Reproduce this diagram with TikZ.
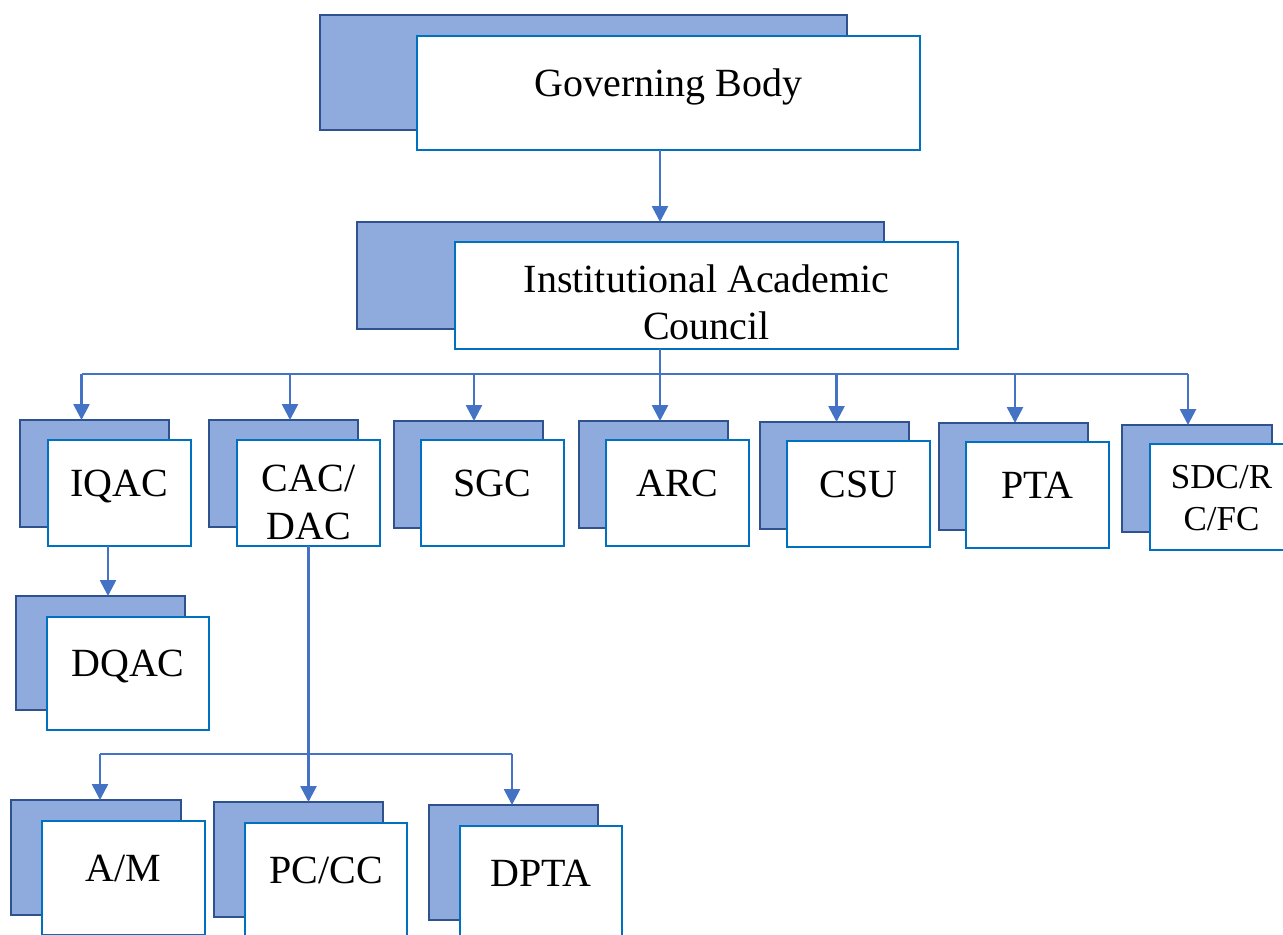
\documentclass[tikz,border=0pt]{standalone}
\usepackage{fontspec}
\setmainfont{Liberation Serif}
\usetikzlibrary{arrows.meta, calc}

\definecolor{backfill}{HTML}{8FAADC}
\definecolor{backline}{HTML}{2F528F}
\definecolor{frontline}{HTML}{0070C0}
\definecolor{linkblue}{HTML}{4472C4}

\begin{document}
\begin{tikzpicture}[
    x=0.5pt, y=-0.5pt,
    back/.style={rectangle, draw=backline, fill=backfill, line width=1.4pt, inner sep=0pt, outer sep=0pt, anchor=north west},
    front/.style={rectangle, draw=frontline, fill=white, line width=1.4pt, inner sep=0pt, outer sep=0pt, anchor=north west},
    rowB/.style={back, minimum width=74.5pt, minimum height=53.5pt},
    rowF/.style={front, minimum width=71.5pt, minimum height=53pt},
    lowB/.style={back, minimum width=84.5pt, minimum height=57.5pt},
    lowF/.style={front, minimum width=81pt, minimum height=57pt},
    one/.style={font=\fontsize{20}{24}\selectfont, text height=14pt, text depth=4pt, inner sep=0pt, yshift=3.5pt},
    two/.style={align=center, inner sep=0pt},
    arr/.style={-{Triangle[width=8pt,length=8pt]}, line width=1.3pt, draw=linkblue},
    conn/.style={line width=1.3pt, draw=linkblue}
]
\useasboundingbox (0,0) rectangle (1283,934);
\clip (0,0) rectangle (1283,934);

% Top levels
\node[back, minimum width=263.5pt, minimum height=57.5pt] (gbB) at (320,15) {};
\node[front, minimum width=251.5pt, minimum height=57pt, label={[one]center:Governing Body}] (gb) at (417,36) {};
\node[back, minimum width=263.5pt, minimum height=53.5pt] (iacB) at (357,222) {};
\node[front, minimum width=251.5pt, minimum height=53.5pt,
      label={[two, font=\fontsize{20}{23.3}\selectfont, yshift=-3.4pt]center:Institutional Academic\\Council}] (iac) at (455,242) {};

% Committees
\node[rowB] (iqacB) at (20,420) {};
\node[rowF, label={[one]center:IQAC}] (iqac) at (48,440) {};
\node[rowB] (cacB) at (209,420) {};
\node[rowF, label={[two, font=\fontsize{20}{24.2}\selectfont, yshift=-4.8pt]center:CAC/\\DAC}] (cac) at (237,440) {};
\node[rowB] (sgcB) at (394,421) {};
\node[rowF, label={[one]center:SGC}] (sgc) at (421,440) {};
\node[rowB] (arcB) at (579,421) {};
\node[rowF, label={[one]center:ARC}] (arc) at (606,440) {};
\node[rowB] (csuB) at (760,422) {};
\node[rowF, label={[one]center:CSU}] (csu) at (787,441) {};
\node[rowB] (ptaB) at (939,423) {};
\node[rowF, label={[one]center:PTA}] (pta) at (966,442) {};
\node[rowB, minimum width=75pt] (sdcB) at (1122,425) {};
\node[rowF, label={[two, font=\fontsize{17.5}{20.8}\selectfont, yshift=-0.5pt]center:SDC/R\\C/FC}] (sdc) at (1150,444) {};

% Lower levels
\node[lowB, minimum height=57pt] (dqacB) at (16,596) {};
\node[lowF, minimum height=56.5pt, label={[one]center:DQAC}] (dqac) at (47,617) {};
\node[lowB, minimum width=85pt] (amB) at (11,800) {};
\node[lowF, minimum width=81.5pt, label={[one]center:A/M}] (am) at (42,821) {};
\node[lowB] (pcB) at (214,802) {};
\node[lowF, label={[one]center:PC/CC}] (pc) at (245,823) {};
\node[lowB] (dptaB) at (429,805) {};
\node[lowF, label={[one]center:DPTA}] (dpta) at (460,826) {};

% Connectors
\coordinate (bus) at (660,374);
\coordinate (sub) at (308,754);
\coordinate (dIQAC) at ($(iqacB.north)+(-6.5pt,0)$);
\coordinate (dCAC) at ($(cacB.north)+(3.25pt,0)$);
\coordinate (dSGC) at ($(sgcB.north)+(2.75pt,0)$);
\coordinate (dCSU) at ($(csuB.north)+(1pt,0)$);
\coordinate (dPTA) at ($(ptaB.north)+(0.75pt,0)$);
\coordinate (dSDC) at ($(sdcB.north)+(-4.5pt,0)$);
\coordinate (dDQAC) at ($(dqacB.north)+(3.75pt,0)$);
\coordinate (dAM) at ($(amB.north)+(2pt,0)$);
\coordinate (dDPTA) at ($(dptaB.north)+(-0.75pt,0)$);

\draw[arr] (gb.south -| bus) -- (iacB.north -| bus);
\draw[arr] (iac.south -| bus) -- (arcB.north -| bus);
\draw[conn] (dIQAC |- bus) -- (dSDC |- bus);
\foreach \d in {dIQAC, dCAC, dSGC, dCSU, dPTA, dSDC}
  \draw[arr] (\d |- bus) -- (\d);

\draw[arr] (iqac.south -| dDQAC) -- (dDQAC);
\draw[arr] (cac.south) -- (cac.south |- pcB.north);
\draw[conn] (dAM |- sub) -- (dDPTA |- sub);
\draw[arr] (dAM |- sub) -- (dAM);
\draw[arr] (dDPTA |- sub) -- (dDPTA);

\end{tikzpicture}
\end{document}
